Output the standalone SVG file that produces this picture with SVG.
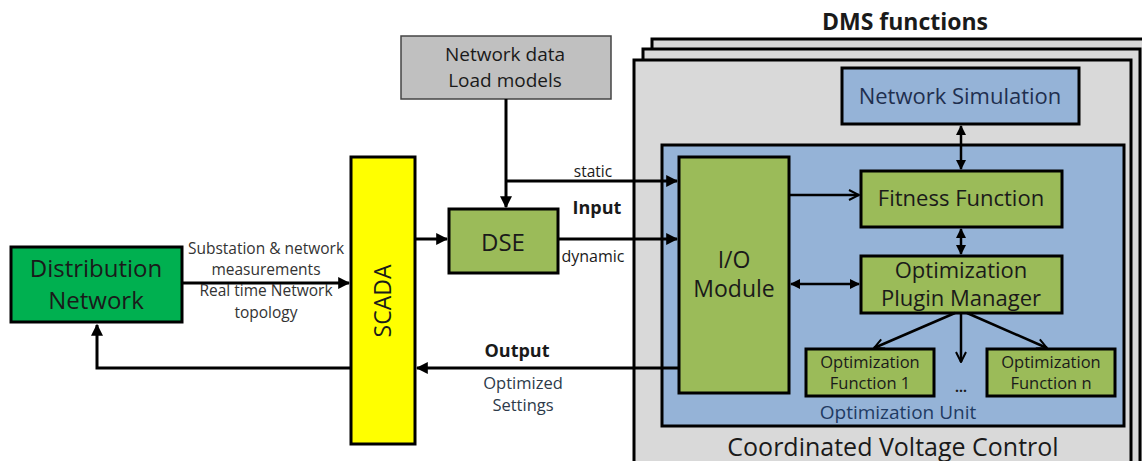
<svg xmlns="http://www.w3.org/2000/svg" width="1142" height="461" viewBox="0 0 1142 461">
<style>
text{font-family:"Open Sans","Noto Sans","Liberation Sans",sans-serif;fill:#1a1a1a}
.box{stroke:#000;stroke-width:3}
.thin{stroke:#000;stroke-width:2.5;fill:none}
.wire{stroke:#000;stroke-width:3;fill:none}
.lbl{font-size:15.5px;fill:#333}
.c{text-anchor:middle}
.b{font-weight:bold}
</style>
<defs>
<marker id="ah" viewBox="0 0 10 10" refX="9" refY="5" markerWidth="4" markerHeight="4" orient="auto-start-reverse" markerUnits="strokeWidth">
<path d="M0,0 L10,5 L0,10 z" fill="#000"/>
</marker>
<marker id="ahs" viewBox="0 0 10 10" refX="9" refY="5" markerWidth="4" markerHeight="4" orient="auto-start-reverse" markerUnits="strokeWidth">
<path d="M0,0 L10,5 L0,10 z" fill="#000"/>
</marker>
<marker id="open" viewBox="0 0 10 10" refX="9" refY="5" markerWidth="5" markerHeight="5" orient="auto" markerUnits="strokeWidth">
<path d="M1,1 L9,5 L1,9" fill="none" stroke="#000" stroke-width="1.6"/>
</marker>
</defs>

<g id="dms-stack">
<rect x="652" y="39" width="500" height="440" fill="#d9d9d9" class="box"/>
<rect x="643" y="49" width="497" height="430" fill="#d9d9d9" class="box"/>
<rect x="634" y="60" width="497" height="420" fill="#d9d9d9" class="box"/>
<text x="905" y="30" class="c b" font-size="23">DMS functions</text>
<text x="893" y="456" class="c" font-size="25">Coordinated Voltage Control</text>
</g>

<g id="optimization-unit">
<rect x="662" y="145" width="462" height="281" fill="#95b3d7" class="box"/>
<text x="898" y="419" class="c" font-size="19" style="fill:#1f3b63">Optimization Unit</text>
</g>

<g id="network-simulation">
<rect x="842" y="68" width="237" height="56" fill="#95b3d7" class="box"/>
<text x="960" y="104" class="c" font-size="22" style="fill:#1f2f4f">Network Simulation</text>
</g>

<g id="io-module">
<rect x="679" y="157" width="110" height="236" fill="#9bbb59" class="box"/>
<text x="734" y="268" class="c" font-size="23">I/O</text>
<text x="734" y="297" class="c" font-size="23">Module</text>
</g>

<g id="fitness-function">
<rect x="861" y="171" width="201" height="56" fill="#9bbb59" class="box"/>
<text x="961" y="206" class="c" font-size="22">Fitness Function</text>
</g>

<g id="plugin-manager">
<rect x="861" y="256" width="201" height="57" fill="#9bbb59" class="box"/>
<text x="961" y="278" class="c" font-size="22">Optimization</text>
<text x="961" y="306" class="c" font-size="22">Plugin Manager</text>
</g>

<g id="opt-function-1">
<rect x="806" y="349" width="128" height="47" fill="#9bbb59" class="box"/>
<text x="870" y="368" class="c" font-size="16.5">Optimization</text>
<text x="870" y="389" class="c" font-size="16.5">Function 1</text>
</g>

<g id="opt-function-n">
<rect x="987" y="349" width="128" height="47" fill="#9bbb59" class="box"/>
<text x="1051" y="368" class="c" font-size="16.5">Optimization</text>
<text x="1051" y="389" class="c" font-size="16.5">Function n</text>
</g>

<g id="ellipsis">
<text x="961" y="392" class="c b" font-size="14">...</text>
</g>

<g id="network-data">
<rect x="401" y="36" width="210" height="63" fill="#c0c0c0" stroke="#444" stroke-width="1.5"/>
<text x="505" y="61" class="c" font-size="19">Network data</text>
<text x="505" y="87" class="c" font-size="19">Load models</text>
</g>

<g id="dse">
<rect x="449" y="209" width="109" height="64" fill="#9bbb59" class="box"/>
<text x="503" y="251" class="c" font-size="24">DSE</text>
</g>

<g id="scada">
<rect x="351" y="157" width="64" height="287" fill="#ffff00" class="box"/>
<text x="0" y="0" class="c" font-size="23" transform="translate(391,301) rotate(-90)">SCADA</text>
</g>

<g id="distribution-network">
<rect x="11" y="247" width="171" height="75" fill="#00b050" class="box"/>
<text x="96" y="277" class="c" font-size="24">Distribution</text>
<text x="96" y="309" class="c" font-size="24">Network</text>
</g>

<g id="connectors">
<line x1="182" y1="283" x2="349" y2="283" class="wire" marker-end="url(#ah)"/>
<path d="M351,368 H97 V325" class="wire" marker-end="url(#ah)"/>
<line x1="679" y1="368" x2="417" y2="368" class="wire" marker-end="url(#ah)"/>
<line x1="415" y1="239" x2="447" y2="239" class="wire" marker-end="url(#ah)"/>
<line x1="558" y1="239" x2="677" y2="239" class="wire" marker-end="url(#ah)"/>
<line x1="506" y1="99" x2="506" y2="207" class="wire" marker-end="url(#ah)"/>
<line x1="506" y1="181" x2="677" y2="181" class="wire" marker-end="url(#ah)"/>
<line x1="961" y1="126" x2="961" y2="169" class="thin" marker-start="url(#ahs)" marker-end="url(#ahs)"/>
<line x1="961" y1="229" x2="961" y2="254" class="thin" marker-start="url(#ahs)" marker-end="url(#ahs)"/>
<line x1="789" y1="195" x2="859" y2="195" class="thin" marker-end="url(#open)"/>
<line x1="791" y1="284" x2="859" y2="284" class="thin" marker-start="url(#ahs)" marker-end="url(#ahs)"/>
<line x1="955" y1="313" x2="874" y2="348" class="thin" marker-end="url(#open)"/>
<line x1="961" y1="313" x2="961" y2="362" class="thin" marker-end="url(#open)"/>
<line x1="967" y1="313" x2="1047" y2="348" class="thin" marker-end="url(#open)"/>
<text x="266" y="254" class="c lbl">Substation &amp; network</text>
<text x="266" y="275" class="c lbl">measurements</text>
<text x="266" y="296" class="c lbl">Real time Network</text>
<text x="266" y="318" class="c lbl">topology</text>
<text x="593" y="177" class="c" font-size="15.5">static</text>
<text x="597" y="214" class="c b" font-size="18">Input</text>
<text x="593" y="262" class="c" font-size="16">dynamic</text>
<text x="517" y="357" class="c b" font-size="18">Output</text>
<text x="523" y="389" class="c" font-size="16.5" style="fill:#2d3a4a">Optimized</text>
<text x="523" y="411" class="c" font-size="16.5" style="fill:#2d3a4a">Settings</text>
</g>
</svg>
